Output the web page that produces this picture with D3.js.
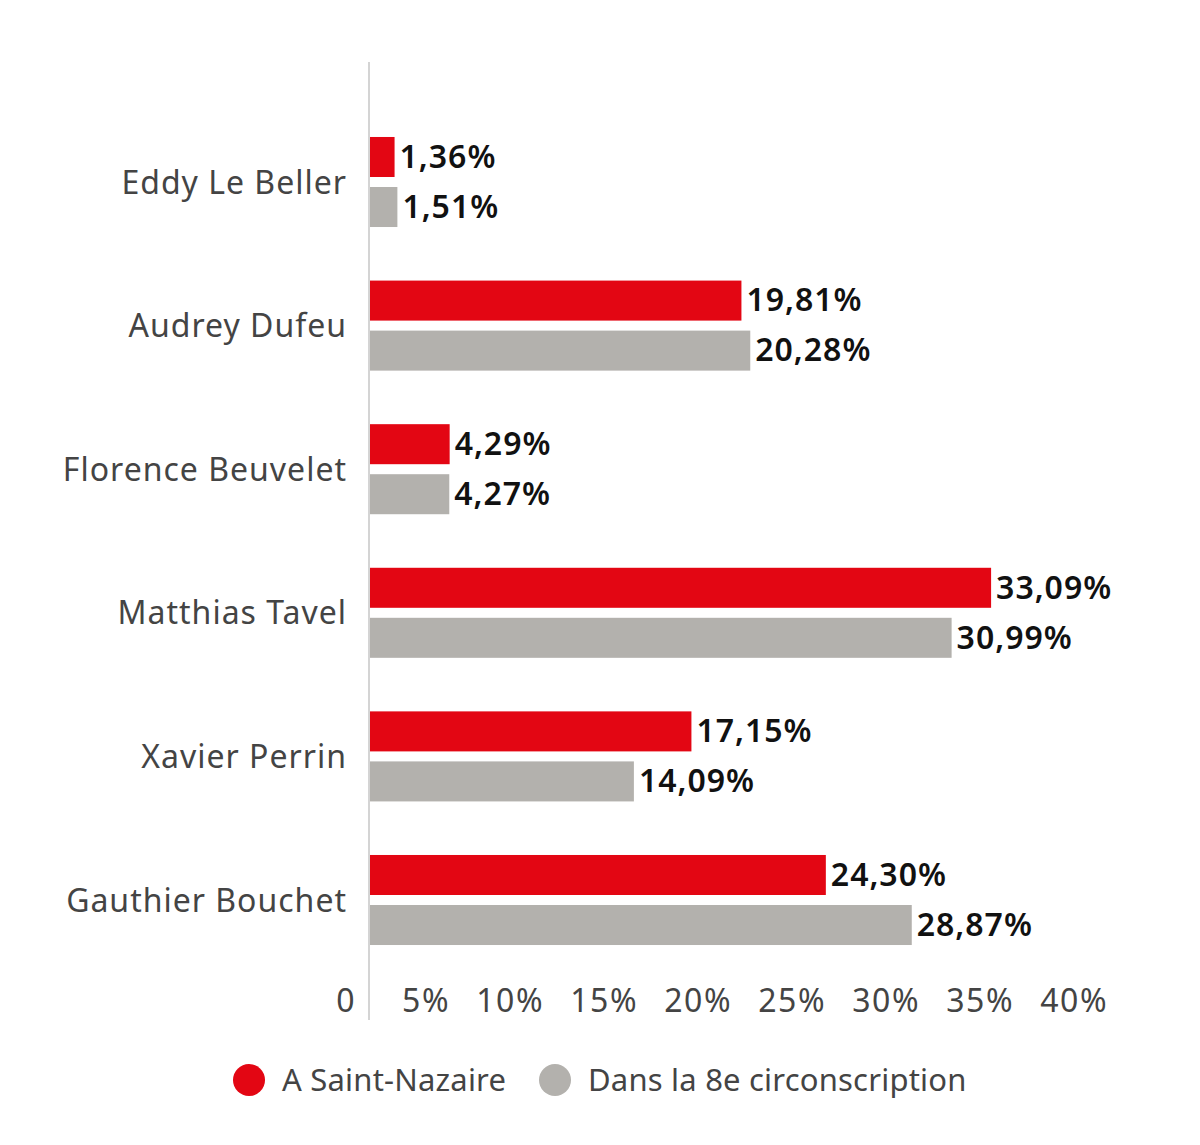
<!DOCTYPE html>
<html>
<head>
<meta charset="utf-8">
<script src="https://cdn.jsdelivr.net/npm/d3@7"></script>
<style>
  body { margin: 0; background: #fff; }
  svg text { font-family: "Noto Sans", "Open Sans", sans-serif; }
</style>
</head>
<body>
<script>
// data
const candidates = ['Eddy Le Beller', 'Audrey Dufeu', 'Florence Beuvelet', 'Matthias Tavel', 'Xavier Perrin', 'Gauthier Bouchet'];
const seriesNames = ['A Saint-Nazaire', 'Dans la 8e circonscription'];
const saintNazaire = [1.36, 19.81, 4.29, 33.09, 17.15, 24.30];
const circonscription = [1.51, 20.28, 4.27, 30.99, 14.09, 28.87];
const tickValues = [0, 5, 10, 15, 20, 25, 30, 35, 40];
const tickLabels = ['0', '5%', '10%', '15%', '20%', '25%', '30%', '35%', '40%'];
const colors = ['#e30613', '#b3b1ad'];

const width = 1200, height = 1145;
const svg = d3.select('body').append('svg')
  .attr('width', width)
  .attr('height', height);

const x = d3.scaleLinear().domain([0, 40]).range([369, 1121]);

const y = d3.scaleBand()
  .domain(candidates)
  .range([110.2, 971.8])
  .paddingInner(0.373)
  .paddingOuter(0.1865);

const ySub = d3.scaleBand()
  .domain(seriesNames)
  .range([0, y.bandwidth()])
  .paddingInner(0.2);

const fmt = v => v.toFixed(2).replace('.', ',') + '%';

const rows = candidates.map((c, i) => ({
  name: c,
  values: [saintNazaire[i], circonscription[i]]
}));

// vertical axis line
svg.append('line')
  .attr('x1', x(0)).attr('x2', x(0))
  .attr('y1', 62).attr('y2', 1020)
  .style('stroke', '#d4d4d4')
  .style('stroke-width', 2);

const groups = svg.selectAll('g.group')
  .data(rows)
  .join('g')
  .attr('class', 'group')
  .attr('transform', d => `translate(0,${y(d.name)})`);

groups.append('text')
  .attr('x', 347)
  .attr('y', y.bandwidth() / 2)
  .attr('dy', '0.36em')
  .attr('text-anchor', 'end')
  .style('font-size', '32px')
  .style('letter-spacing', '1px')
  .style('fill', '#444')
  .text(d => d.name);

const bars = groups.selectAll('g.bar')
  .data(d => d.values.map((v, j) => ({ v, s: seriesNames[j], j })))
  .join('g')
  .attr('class', 'bar');

bars.append('rect')
  .attr('x', x(0) + 1)
  .attr('y', d => ySub(d.s))
  .attr('width', d => x(d.v) - x(0) - 1)
  .attr('height', ySub.bandwidth())
  .style('fill', d => colors[d.j]);

bars.append('text')
  .attr('x', d => x(d.v) + 5)
  .attr('y', d => ySub(d.s) + ySub.bandwidth() / 2)
  .attr('dy', '0.34em')
  .style('font-size', '32px')
  .style('font-weight', '600')
  .style('letter-spacing', '1px')
  .style('fill', '#111')
  .text(d => fmt(d.v));

// tick labels (right-aligned just left of each tick position)
svg.selectAll('text.tick')
  .data(tickValues)
  .join('text')
  .attr('class', 'tick')
  .attr('x', d => x(d) - 13)
  .attr('y', 1000)
  .attr('dy', '0.36em')
  .attr('text-anchor', 'end')
  .style('font-size', '32px')
  .style('letter-spacing', '1.5px')
  .style('fill', '#444')
  .text((d, i) => tickLabels[i]);

// legend
const legendX = [249, 555];
const legend = svg.selectAll('g.legend')
  .data(seriesNames)
  .join('g')
  .attr('class', 'legend')
  .attr('transform', (d, i) => `translate(${legendX[i]},1080)`);

legend.append('circle')
  .attr('r', 16)
  .style('fill', (d, i) => colors[i]);

legend.append('text')
  .attr('x', 33)
  .attr('dy', '0.36em')
  .style('font-size', '31px')
  .style('letter-spacing', '0.2px')
  .style('fill', '#444')
  .text(d => d);
</script>
</body>
</html>
